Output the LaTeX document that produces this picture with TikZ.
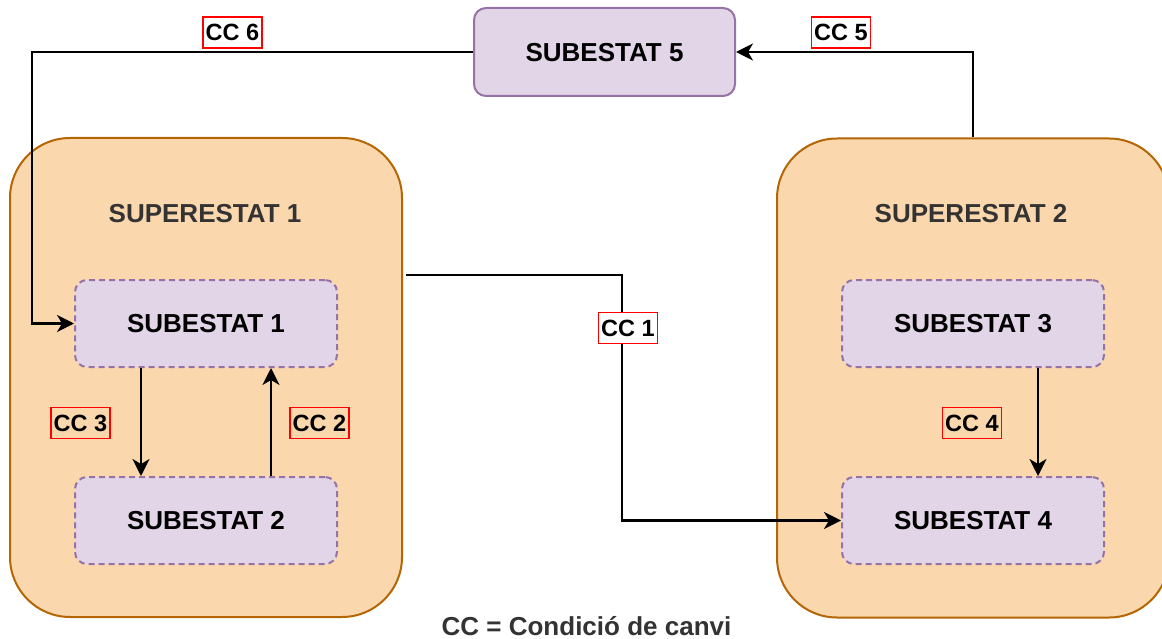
\documentclass[tikz,border=0pt]{standalone}
\usepackage{fontspec}
\setmainfont{Liberation Sans}
\usetikzlibrary{arrows.meta}
\definecolor{orfill}{HTML}{FAD7AC}
\definecolor{ordraw}{HTML}{B46504}
\definecolor{pufill}{HTML}{E1D5E7}
\definecolor{pudraw}{HTML}{9673A6}
\definecolor{txtgray}{HTML}{333333}
\tikzset{
  super/.style={draw=ordraw, fill=orfill, line width=2pt, rounded corners=60pt,
    minimum width=392pt, minimum height=479pt, inner sep=0pt},
  subbox/.style={draw=pudraw, fill=pufill, line width=2pt, rounded corners=12pt,
    minimum width=262pt, minimum height=87pt, font=\fontsize{26}{31}\selectfont\bfseries,
    text height=18.6pt, text depth=0pt, inner sep=0pt},
  subdash/.style={subbox, dash pattern=on 6pt off 4pt},
  title/.style={font=\fontsize{26}{31}\selectfont\bfseries, text=txtgray,
    text height=18.6pt, text depth=0pt, inner sep=0pt},
  cclab/.style={draw=red, line width=1.5pt, font=\fontsize{23.5}{28}\selectfont\bfseries,
    text height=16.8pt, text depth=0pt, inner xsep=2.5pt, inner ysep=7pt},
  arr/.style={draw=black, line width=2.2pt, -{Stealth[length=17pt,width=17pt,inset=5pt]}},
}
\begin{document}
\begin{tikzpicture}[x=1pt,y=-1pt]
\useasboundingbox (0,0) rectangle (1162,639);
% superstates
\node[super] (sup1) at (206,377.5) {};
\node[super] (sup2) at (973,378) {};
\node[title] (t1) at (205,213) {SUPERESTAT 1};
\node[title] (t2) at (971,213) {SUPERESTAT 2};
% substates
\node[subbox, minimum width=261pt, minimum height=88pt] (s5) at (604.5,52) {SUBESTAT 5};
\node[subdash] (s1) at (206,323.5) {SUBESTAT 1};
\node[subdash] (s2) at (206,520.5) {SUBESTAT 2};
\node[subdash] (s3) at (973,323.5) {SUBESTAT 3};
\node[subdash] (s4) at (973,520.5) {SUBESTAT 4};
% connector helper coordinates
\coordinate (c6) at (32,52);
\coordinate (c1a) at (406,275);
\coordinate (c1b) at (622,275);
% connectors
\draw[arr] (s5.west) -- (c6) |- (s1.west);
\draw[arr] (sup2.north) |- (s5.east);
\draw[arr] (c1a) -- (c1b) |- (s4.west);
\draw[arr] ([xshift=-65pt]s1.south) -- ([xshift=-65pt]s2.north);
\draw[arr] ([xshift=65pt]s2.north) -- ([xshift=65pt]s1.south);
\draw[arr] ([xshift=65pt]s3.south) -- ([xshift=65pt]s4.north);
% labels
\node[cclab, fill=white] (l6) at (232.5,32.5) {CC 6};
\node[cclab, fill=white] (l5) at (841,32.5) {CC 5};
\node[cclab, fill=white] (l1) at (628,328) {CC 1};
\node[cclab] (l3) at (80.5,423) {CC 3};
\node[cclab] (l2) at (319.5,423) {CC 2};
\node[cclab] (l4) at (972,423) {CC 4};
% caption
\node[anchor=base, inner sep=0pt, text=txtgray, font=\fontsize{26}{31}\selectfont\bfseries] (cap) at (586.5,635) {CC = Condició de canvi};
\end{tikzpicture}
\end{document}
